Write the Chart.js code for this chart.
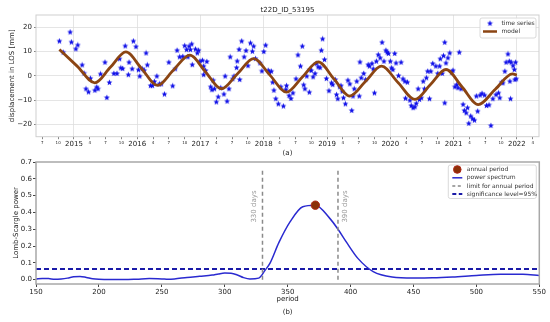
<!DOCTYPE html>
<html>
<head>
<meta charset="utf-8">
<script src="https://cdn.jsdelivr.net/npm/chart.js@4.4.1/dist/chart.umd.min.js"></script>
<style>
  html, body { margin: 0; padding: 0; background: #fff; }
  #wrap { position: relative; width: 550px; height: 322px; overflow: hidden; }
  canvas { position: absolute; left: 0; }
  #top { top: 0; }
  #bottom { top: 150px; }
</style>
</head>
<body>
<div id="wrap">
  <canvas id="top" width="550" height="160"></canvas>
  <canvas id="bottom" width="550" height="172"></canvas>
</div>
<script>
// ---- time series (decimal year, mm) ----
const tsDates = [
  2014.77, 2014.83, 2014.94, 2014.96, 2015.03, 2015.06, 2015.13, 2015.16, 2015.19, 2015.23,
  2015.26, 2015.33, 2015.36, 2015.38, 2015.42, 2015.49, 2015.52, 2015.56, 2015.63, 2015.68,
  2015.72, 2015.74, 2015.77, 2015.81, 2015.86, 2015.87, 2015.92, 2015.94, 2015.98, 2016.02,
  2016.04, 2016.08, 2016.11, 2016.14, 2016.16, 2016.21, 2016.24, 2016.27, 2016.31, 2016.35,
  2016.38, 2016.43, 2016.50, 2016.56, 2016.60, 2016.63, 2016.67, 2016.72, 2016.75, 2016.78,
  2016.80, 2016.82, 2016.84, 2016.86, 2016.87, 2016.92, 2016.95, 2016.97, 2016.99, 2017.03,
  2017.05, 2017.05, 2017.08, 2017.10, 2017.16, 2017.18, 2017.20, 2017.22, 2017.25, 2017.28,
  2017.32, 2017.37, 2017.39, 2017.42, 2017.45, 2017.47, 2017.51, 2017.53, 2017.57, 2017.58,
  2017.61, 2017.62, 2017.65, 2017.69, 2017.72, 2017.75, 2017.79, 2017.82, 2017.84, 2017.87,
  2017.94, 2017.97, 2018.00, 2018.03, 2018.07, 2018.09,
  2018.12, 2018.14, 2018.16, 2018.19, 2018.23, 2018.27, 2018.31, 2018.35, 2018.36, 2018.40,
  2018.43, 2018.46, 2018.51, 2018.54, 2018.58, 2018.61, 2018.63, 2018.65, 2018.68, 2018.72,
  2018.73, 2018.75, 2018.78, 2018.81, 2018.83, 2018.86, 2018.89, 2018.91, 2018.93, 2018.96,
  2018.99, 2019.03, 2019.07, 2019.09, 2019.13, 2019.15, 2019.17, 2019.20, 2019.22, 2019.24,
  2019.26, 2019.29, 2019.33, 2019.36, 2019.39, 2019.41, 2019.43, 2019.47, 2019.51, 2019.52,
  2019.54, 2019.58, 2019.61, 2019.65, 2019.67, 2019.71, 2019.73, 2019.75, 2019.78, 2019.81,
  2019.84, 2019.87, 2019.90, 2019.93, 2019.95, 2019.97, 2020.00, 2020.02, 2020.04, 2020.07,
  2020.09, 2020.13, 2020.17, 2020.20, 2020.23, 2020.24, 2020.27, 2020.31, 2020.33, 2020.36,
  2020.39, 2020.41, 2020.44, 2020.46, 2020.49, 2020.52, 2020.54, 2020.57, 2020.59, 2020.62,
  2020.64, 2020.67, 2020.72, 2020.75, 2020.78, 2020.79, 2020.82, 2020.84, 2020.86, 2020.88,
  2020.91, 2020.94, 2020.97, 2020.99, 2020.86, 2021.02, 2021.05, 2021.07, 2021.09, 2021.12,
  2021.15, 2021.17, 2021.20, 2021.22, 2021.24, 2021.27, 2021.30, 2021.33, 2021.36, 2021.38,
  2021.42, 2021.45, 2021.49, 2021.52, 2021.56, 2021.59, 2021.62, 2021.67, 2021.71, 2021.73,
  2021.76, 2021.78, 2021.81, 2021.83, 2021.86, 2021.88, 2021.89, 2021.90, 2021.91, 2021.94,
  2021.96, 2021.97, 2021.99, 2021.98
];
const tsValues = [
  14.3, 9.7, 18.0, 13.9, 11.1, 12.7, 4.5, 1.1, -5.3, -6.6,
  -1.0, -5.9, -4.6, -5.3, 0.8, 5.6, -8.9, -2.7, 1.0, 1.0,
  7.0, 3.3, 3.0, 12.3, 0.5, 5.6, 2.9, 14.3, 12.0, 2.5,
  -0.1, 2.9, 2.3, 9.4, 4.5, -4.0, -4.0, -2.3, -0.1, -3.3,
  -3.3, -7.5, 5.6, -4.1, 2.9, 10.5, 7.8, 8.0, 12.4, 10.8,
  7.8, 12.2, 10.8, 13.1, 4.6, 11.0, 9.4, 10.5, 6.0, 6.4,
  4.0, 0.5, 2.2, 5.9, -4.5, -5.7, -1.8, -5.3, -10.7, -8.6,
  -4.9, -7.5, -0.1, -10.4, -5.3, 7.8, -1.2, -0.1, 3.4, 6.1,
  10.9, -1.5, 14.3, 7.8, 10.4, 4.2, 13.5, 10.1, 12.2, 7.1,
  5.3, 2.0, 10.0, 12.6, 2.3, 1.5,
  1.9, -2.6, -5.9, -9.4, -11.5, -4.5, -12.4, -5.6, -4.0, -8.1,
  -9.3, -7.0, -1.2, 8.6, 4.0, 12.2, -3.7, -5.3, -0.1, -6.7,
  2.6, 2.2, -0.4, 1.0, 5.1, 3.7, 3.4, 10.5, 15.2, 6.7,
  -1.1, -6.1, -2.9, -3.6, -1.5, -7.7, -9.4, -4.5, -4.0, -6.3,
  -9.0, -11.5, -1.8, -3.3, -14.2, -8.3, -5.3, -2.2, -8.3, 5.7,
  -0.8, 1.0, -1.5, 4.6, 4.0, 5.1, 2.9, -7.0, 6.0, 8.7,
  7.4, 13.8, 6.0, 10.5, 9.7, 9.2, 6.0, 3.3, 2.6, 9.2,
  5.3, 0.1, 5.6, -1.2, -2.2, -9.2, -2.6, -10.0, -12.2, -13.1,
  -12.7, -11.3, -5.3, -9.7, -9.0, -2.2, -5.3, -0.8, 1.9, -9.4,
  1.9, 5.1, 4.0, 1.0, 4.0, 7.0, 1.0, 8.3, 13.8, 5.3,
  7.4, 9.4, 1.5, 2.3, -11.1, -4.5, -3.6, -4.9, 9.7, -5.3,
  -11.7, -14.2, -15.2, -13.1, -19.5, -16.5, -17.6, -18.2, -8.3, -14.5,
  -7.9, -7.2, -7.9, -12.2, -11.9, -20.4, -9.4, -7.7, -7.0, -9.0,
  -2.6, -2.9, 1.9, 5.6, 9.0, 6.0, -2.2, -9.4, 5.6, 4.2,
  2.6, -1.5, -1.2, 5.6
];

// ---- fitted model (decimal year, mm) ----
const modelDates = [
  2014.77, 2015.05, 2015.33, 2015.575, 2015.82, 2016.07, 2016.32, 2016.57, 2016.83, 2017.08,
  2017.33, 2017.585, 2017.84, 2018.10, 2018.36, 2018.61, 2018.86, 2019.11, 2019.36, 2019.61,
  2019.86, 2020.125, 2020.39, 2020.635, 2020.88, 2021.135, 2021.39, 2021.66, 2021.93, 2022.0
];
const modelValues = [
  10.8, 4.0, -2.9, 3.5, 9.85, 2.95, -3.95, 2.3, 8.5, 1.6,
  -5.3, 0.9, 7.1, 0.2, -6.7, -0.5, 5.75, -1.3, -8.3, -2.2,
  4.0, -2.85, -9.7, -3.55, 2.6, -4.6, -11.8, -5.5, 0.8, 0.3
];

// ---- Lomb-Scargle periodogram ----
const periods = [
  150, 155, 160, 165, 170, 175, 180, 185, 190, 195, 200, 210, 220, 230, 240, 250, 255, 260, 270, 280,
  290, 295, 300, 305, 310, 315, 320, 327, 332, 336, 343, 352, 362, 372, 383, 390, 397, 406, 418, 433,
  450, 465, 481, 500, 519, 537, 550
];
const power = [
  0.004, 0.007, 0.006, 0.002, 0.004, 0.009, 0.017, 0.019, 0.013, 0.005, 0.002, 0.001, 0.001, 0.003, 0.006, 0.004, 0.002, 0.004, 0.013, 0.020,
  0.027, 0.034, 0.039, 0.038, 0.028, 0.012, 0.004, 0.009, 0.055, 0.098, 0.220, 0.345, 0.434, 0.443, 0.369, 0.300, 0.220, 0.125, 0.048, 0.016,
  0.010, 0.011, 0.016, 0.025, 0.032, 0.032, 0.024
];
const annualPeriod = [372];
const annualPower = [0.443];
const limitPeriods = [330, 390];
const limitHeight = [0, 0.65];
const significance = 0.063;

// ---- ticks ----
const quarterTicks = [];
for (let y = 2014.5; y <= 2022.26; y += 0.25) quarterTicks.push(Math.round(y * 100) / 100);
const yTicksTop = [-20, -10, 0, 10, 20];
const xTicksBottom = [150, 200, 250, 300, 350, 400, 450, 500, 550];
const yTicksBottom = [0, 0.1, 0.2, 0.3, 0.4, 0.5, 0.6, 0.7];

Chart.defaults.font.family = 'DejaVu Sans';
Chart.defaults.color = '#222';

const FONT = 'DejaVu Sans';
const minus = s => String(s).replace('-', '\u2212');
const isYear = v => Math.abs(v - Math.round(v)) < 1e-6;

// small filled blue star marker, like matplotlib '*'
const star = document.createElement('canvas');
star.width = 7; star.height = 7;
(function () {
  const c = star.getContext('2d');
  c.fillStyle = '#1010e8';
  c.beginPath();
  for (let i = 0; i < 10; i++) {
    const r = i % 2 ? 1.35 : 3.1;
    const a = -Math.PI / 2 + i * Math.PI / 5;
    c.lineTo(3.5 + r * Math.cos(a), 3.7 + r * Math.sin(a));
  }
  c.closePath();
  c.fill();
})();

function frame(color, width) {
  return {
    id: 'frame',
    afterDatasetsDraw(chart) {
      const { ctx, chartArea: a } = chart;
      ctx.save();
      ctx.strokeStyle = color;
      ctx.lineWidth = width;
      ctx.strokeRect(a.left, a.top, a.right - a.left, a.bottom - a.top);
      ctx.restore();
    }
  };
}

function legendBox(ctx, x, y, w, h) {
  ctx.save();
  ctx.fillStyle = 'rgba(255,255,255,0.85)';
  ctx.strokeStyle = '#d0d0d0';
  ctx.lineWidth = 0.8;
  ctx.beginPath();
  ctx.roundRect(x, y, w, h, 2);
  ctx.fill();
  ctx.stroke();
  ctx.restore();
}

const topText = {
  id: 'topText',
  afterDraw(chart) {
    const { ctx, chartArea: a } = chart;
    const cx = (a.left + a.right) / 2;
    ctx.save();
    ctx.fillStyle = '#222';
    ctx.textAlign = 'center';
    ctx.textBaseline = 'middle';
    ctx.font = '7px ' + FONT;
    ctx.fillText('t22D_ID_53195', cx, a.top - 5);
    ctx.fillText('(a)', cx, a.bottom + 16.5);

    // legend
    const r = a.right, t = a.top;
    legendBox(ctx, r - 59, t + 3, 56, 20);
    ctx.drawImage(star, r - 52.5, t + 4.8);
    ctx.strokeStyle = '#8b4513';
    ctx.lineWidth = 2.5;
    ctx.beginPath();
    ctx.moveTo(r - 56, t + 16.5);
    ctx.lineTo(r - 42, t + 16.5);
    ctx.stroke();
    ctx.fillStyle = '#333';
    ctx.textAlign = 'left';
    ctx.font = '6px ' + FONT;
    ctx.fillText('time series', r - 37.5, t + 8.5);
    ctx.fillText('model', r - 37.5, t + 16.5);
    ctx.restore();
  }
};

const bottomText = {
  id: 'bottomText',
  afterDraw(chart) {
    const { ctx, chartArea: a, scales } = chart;
    const cx = (a.left + a.right) / 2;
    ctx.save();
    ctx.fillStyle = '#222';
    ctx.textAlign = 'center';
    ctx.textBaseline = 'middle';
    ctx.font = '7px ' + FONT;
    ctx.fillText('(b)', cx, a.bottom + 28);

    // rotated limit labels
    ctx.fillStyle = '#999';
    ctx.font = '7px ' + FONT;
    const yl = scales.y.getPixelForValue(0.435);
    [[limitPeriods[0], -8], [limitPeriods[1], 7]].forEach(([p, dx]) => {
      ctx.save();
      ctx.translate(scales.x.getPixelForValue(p) + dx, yl);
      ctx.rotate(-Math.PI / 2);
      ctx.fillText(p + ' days', 0, 0);
      ctx.restore();
    });

    // legend
    const r = a.right, t = a.top;
    legendBox(ctx, r - 91, t + 3, 88, 33.5);
    const ys = [t + 7.5, t + 15.8, t + 24, t + 32];
    const x0 = r - 87, x1 = r - 77;
    ctx.fillStyle = '#8b3008';
    ctx.strokeStyle = '#b02818';
    ctx.lineWidth = 1;
    ctx.beginPath();
    ctx.arc((x0 + x1) / 2, ys[0], 3.8, 0, Math.PI * 2);
    ctx.fill();
    ctx.stroke();
    const lines = [[ys[1], '#2a2ad0', 1.5, []], [ys[2], '#888', 1.5, [3, 2.5]], [ys[3], '#1a1aa8', 2, [4, 2.5]]];
    lines.forEach(([y, c, w, d]) => {
      ctx.strokeStyle = c; ctx.lineWidth = w; ctx.setLineDash(d);
      ctx.beginPath(); ctx.moveTo(x0, y); ctx.lineTo(x1, y); ctx.stroke();
    });
    ctx.setLineDash([]);
    ctx.fillStyle = '#333';
    ctx.textAlign = 'left';
    ctx.font = '6px ' + FONT;
    ['annual period', 'power spectrum', 'limit for annual period', 'significance level=95%']
      .forEach((s, i) => ctx.fillText(s, r - 72.5, ys[i]));
    ctx.restore();
  }
};

// ---------- (a) time series ----------
new Chart(document.getElementById('top'), {
  type: 'scatter',
  data: {
    datasets: [
      {
        label: 'time series',
        data: tsDates.map((t, i) => ({ x: t, y: tsValues[i] })),
        pointStyle: star,
        pointRadius: 3.5,
        order: 1
      },
      {
        type: 'line',
        label: 'model',
        data: modelDates.map((t, i) => ({ x: t, y: modelValues[i] })),
        borderColor: '#8b4513',
        borderWidth: 2.8,
        pointRadius: 0,
        fill: false,
        cubicInterpolationMode: 'monotone',
        order: 0
      }
    ]
  },
  options: {
    responsive: false,
    animation: false,
    events: [],
    layout: { padding: { top: 15, right: 11, left: 0, bottom: 0 } },
    plugins: { legend: { display: false }, tooltip: { enabled: false } },
    scales: {
      x: {
        type: 'linear',
        min: 2014.4,
        max: 2022.35,
        afterBuildTicks: s => { s.ticks = quarterTicks.map(v => ({ value: v })); },
        afterFit: s => { s.height = 23.3; },
        border: { display: false },
        grid: {
          color: c => (c.tick && isYear(c.tick.value)) ? '#dedede' : 'rgba(0,0,0,0)',
          tickColor: '#666',
          tickLength: 2.5,
          lineWidth: 0.8
        },
        ticks: {
          autoSkip: false,
          maxRotation: 0,
          minRotation: 0,
          padding: 1,
          color: '#222',
          font: c => ({ size: (c.tick && isYear(c.tick.value)) ? 7 : 4 }),
          callback: v => isYear(v) ? String(Math.round(v)) : String(Math.round((v - Math.floor(v)) * 12) + 1)
        }
      },
      y: {
        min: -25,
        max: 25,
        afterBuildTicks: s => { s.ticks = yTicksTop.map(v => ({ value: v })); },
        afterFit: s => { s.width = 36; },
        border: { display: false },
        grid: { color: '#dedede', lineWidth: 0.8, tickColor: '#666', tickLength: 2 },
        ticks: { padding: 2, font: { size: 7 }, color: '#222', callback: v => minus(v) },
        title: {
          display: true,
          text: 'displacement in LOS [mm]',
          font: { size: 7 },
          color: '#222',
          padding: { top: 7.5, bottom: 0 }
        }
      }
    }
  },
  plugins: [frame('#cfcfcf', 1), topText]
});

// ---------- (b) periodogram ----------
new Chart(document.getElementById('bottom'), {
  type: 'scatter',
  data: {
    datasets: [
      {
        label: 'annual period',
        data: annualPeriod.map((p, i) => ({ x: p, y: annualPower[i] })),
        backgroundColor: '#8b3008',
        borderColor: '#b02818',
        borderWidth: 1,
        pointRadius: 4.2,
        order: 0
      },
      {
        type: 'line',
        label: 'power spectrum',
        data: periods.map((p, i) => ({ x: p, y: power[i] })),
        borderColor: '#2a2ad0',
        borderWidth: 1.5,
        pointRadius: 0,
        fill: false,
        cubicInterpolationMode: 'monotone',
        order: 2
      },
      ...limitPeriods.map(p => ({
        type: 'line',
        label: 'limit for annual period',
        data: limitHeight.map(h => ({ x: p, y: h })),
        borderColor: '#8a8a8a',
        borderWidth: 1.5,
        borderDash: [4, 3],
        pointRadius: 0,
        fill: false,
        order: 1
      })),
      {
        type: 'line',
        label: 'significance level=95%',
        data: [{ x: xTicksBottom[0], y: significance }, { x: xTicksBottom[xTicksBottom.length - 1], y: significance }],
        borderColor: '#1a1aa8',
        borderWidth: 2,
        borderDash: [5, 3],
        pointRadius: 0,
        fill: false,
        order: 3
      }
    ]
  },
  options: {
    responsive: false,
    animation: false,
    events: [],
    layout: { padding: { top: 12, right: 10.7, left: 0, bottom: 0 } },
    plugins: { legend: { display: false }, tooltip: { enabled: false } },
    scales: {
      x: {
        type: 'linear',
        min: 150,
        max: 550,
        afterBuildTicks: s => { s.ticks = xTicksBottom.map(v => ({ value: v })); },
        afterFit: s => { s.height = 38; },
        border: { display: false },
        grid: { drawOnChartArea: false, tickColor: '#444', tickLength: 3 },
        ticks: { autoSkip: false, maxRotation: 0, padding: 1, font: { size: 7 }, color: '#222' },
        title: {
          display: true,
          text: 'period',
          font: { size: 7 },
          color: '#222',
          padding: { top: 0, bottom: 18.5 }
        }
      },
      y: {
        min: -0.026,
        max: 0.7,
        afterBuildTicks: s => { s.ticks = yTicksBottom.map(v => ({ value: v })); },
        afterFit: s => { s.width = 36; },
        border: { display: false },
        grid: { drawOnChartArea: false, tickColor: '#444', tickLength: 3 },
        ticks: { padding: 1, font: { size: 7 }, color: '#222', callback: v => v.toFixed(1) },
        title: {
          display: true,
          text: 'Lomb-Scargle power',
          font: { size: 7 },
          color: '#222',
          padding: { top: 11.5, bottom: 0 }
        }
      }
    }
  },
  plugins: [frame('#a8a8a8', 1.5), bottomText]
});
</script>
</body>
</html>
